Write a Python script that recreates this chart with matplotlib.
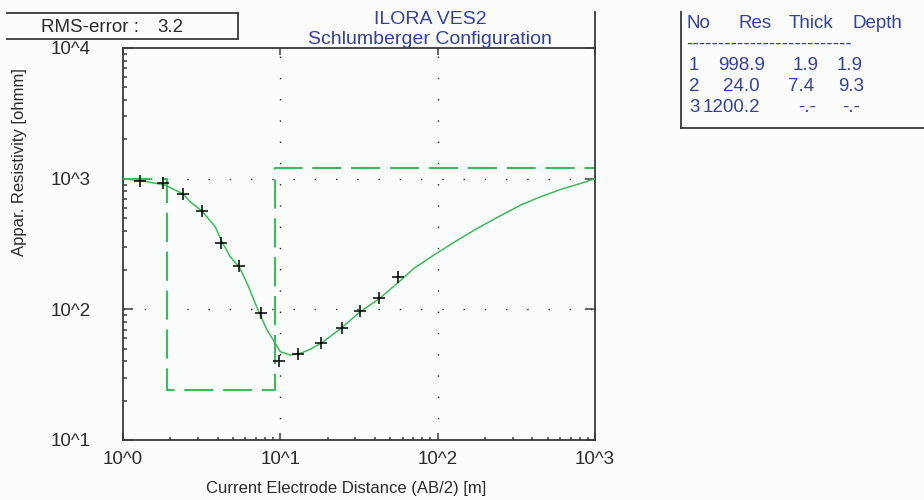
import matplotlib
matplotlib.use("Agg")
import matplotlib.pyplot as plt
from matplotlib.lines import Line2D
from matplotlib.ticker import FixedLocator, NullFormatter, LogLocator

plt.rcParams["font.family"] = ["Liberation Sans", "DejaVu Sans"]
plt.rcParams["lines.scale_dashes"] = False

# ---- sounding data -------------------------------------------------------
# measured apparent resistivity (AB/2 in m, rho_a in ohm-m)
obs_ab2 = [1.28, 1.80, 2.41, 3.17, 4.19, 5.43, 7.54, 9.85, 13.0, 18.2, 24.5, 31.9, 42.1, 55.6]
obs_rho = [960, 927, 763, 566, 324, 216, 93.3, 40.2, 45.5, 55.3, 71.9, 97.0, 122, 177]

# calculated response of the layered model
calc_ab2 = [1.00, 1.283, 1.851, 2.411, 2.672, 3.171, 3.855, 4.254, 4.803, 5.506,
            6.283, 6.932, 7.458, 8.230, 9.294, 10.0, 11.58, 13.41, 15.15, 18.17,
            24.35, 31.86, 42.27, 55.38, 70.63, 99.56, 140.1, 179.0, 240.1, 337.9,
            453.1, 607.4, 814.3, 1000]
calc_rho = [1000, 968, 894, 763, 666, 566, 429, 329, 253, 209,
            149, 111, 90.5, 69.5, 55.0, 47.4, 44.7, 46.1, 48.8, 55.0,
            71.6, 94.9, 120, 158, 206, 271, 350, 417, 506, 629,
            728, 829, 921, 1000]

# layered earth model
layer_no = [1, 2, 3]
layer_res = [998.9, 24.0, 1200.2]
layer_thick = [1.9, 7.4]
layer_depth = [1.9, 9.3]

rms_error = 3.2
title_lines = ["ILORA VES2", "Schlumberger Configuration"]
x_ticks = [1, 10, 100, 1000]
x_tick_labels = ["10^0", "10^1", "10^2", "10^3"]
y_ticks = [10, 100, 1000, 10000]
y_tick_labels = ["10^1", "10^2", "10^3", "10^4"]
x_label = "Current Electrode Distance (AB/2) [m]"
y_label = "Appar. Resistivity [ohmm]"

# ---- styling ---------------------------------------------------------------
W, H = 924, 500
BG = "#fbfdfd"
GREEN = "#3dba5c"
INK = "#2a2a2a"
BLUE = "#34409a"
FRAME = "#3a3a3a"


def fx(px):
    return px / W


def fy(py):
    return 1 - py / H


fig = plt.figure(figsize=(W / 100, H / 100), dpi=100)
fig.patch.set_facecolor(BG)

ax = fig.add_axes([fx(123), fy(440), (595 - 123) / W, (440 - 48) / H])
ax.set_facecolor(BG)
ax.set_xscale("log")
ax.set_yscale("log")
ax.set_xlim(1, 1000)
ax.set_ylim(10, 10000)

for s in ax.spines.values():
    s.set_color(FRAME)
    s.set_linewidth(1.3)

# dotted grid lines at the inner decades
dot = (0, (1.0, 14.3))
for v in y_ticks[1:3]:
    ax.axhline(v, color="#202020", lw=1.0, ls=dot, dash_capstyle="butt", zorder=1)
for v in x_ticks[1:3]:
    ax.axvline(v, color="#202020", lw=1.0, ls=dot, dash_capstyle="butt", zorder=1)

# model (dashed step)
model_x = [1] + layer_depth + [1000]
model_y = layer_res + [layer_res[-1]]
ax.plot(model_x, model_y, drawstyle="steps-post", color=GREEN, lw=1.5,
        dashes=(21, 7), zorder=2)

# calculated curve
ax.plot(calc_ab2, calc_rho, color=GREEN, lw=1.1, zorder=3)

# observations
ax.plot(obs_ab2, obs_rho, ls="none", marker="+", ms=8, mew=1.1, color="k", zorder=4)

# ticks
ax.xaxis.set_major_locator(FixedLocator(x_ticks))
ax.xaxis.set_minor_locator(LogLocator(base=10, subs=range(2, 10)))
ax.xaxis.set_minor_formatter(NullFormatter())
ax.set_xticklabels(x_tick_labels)
ax.yaxis.set_major_locator(FixedLocator(y_ticks))
ax.yaxis.set_minor_locator(LogLocator(base=10, subs=range(2, 10)))
ax.yaxis.set_minor_formatter(NullFormatter())
ax.set_yticklabels(y_tick_labels)

ax.tick_params(axis="x", which="major", direction="in", length=5, width=1.1,
               top=True, bottom=True, color=FRAME, labelsize=13.5,
               labelcolor=INK, pad=8)
ax.tick_params(axis="x", which="minor", direction="in", length=2.5, width=1.1,
               top=False, bottom=True, color=FRAME)
ax.tick_params(axis="y", which="major", direction="in", length=7, width=1.1,
               left=True, right=True, color=FRAME, labelsize=13.5,
               labelcolor=INK, pad=23)
ax.tick_params(axis="y", which="minor", direction="in", length=3, width=1.1,
               left=True, right=False, color=FRAME)

# axis titles
fig.text(fx(346), fy(488), x_label, ha="center", va="center", fontsize=12, color=INK)
fig.text(fx(20), fy(162), y_label, ha="center", va="center", rotation=90,
         fontsize=12, color=INK)

# chart title
fig.text(fx(430), fy(20), title_lines[0], ha="center", va="center", fontsize=14, color=BLUE)
fig.text(fx(430), fy(40), title_lines[1], ha="center", va="center", fontsize=14, color=BLUE)

# right frame line extends above the plot
fig.add_artist(Line2D([fx(595), fx(595)], [fy(12), fy(48)], color=FRAME, lw=1.3))

# RMS error box
for xs, ys in [((7, 238), (13, 13)), ((7, 238), (39, 39)), ((238, 238), (13, 39))]:
    fig.add_artist(Line2D([fx(xs[0]), fx(xs[1])], [fy(ys[0]), fy(ys[1])],
                          color=FRAME, lw=1.3))
fig.text(fx(41), fy(27), "RMS-error :", ha="left", va="center", fontsize=13.5, color=INK)
fig.text(fx(157), fy(27), f"{rms_error:.1f}", ha="left", va="center", fontsize=13.5, color=INK)

# layer table box
fig.add_artist(Line2D([fx(681), fx(681)], [fy(12), fy(128)], color=FRAME, lw=1.3))
fig.add_artist(Line2D([fx(681), fx(924)], [fy(128), fy(128)], color=FRAME, lw=1.3))

tfs = 13.5
fig.text(fx(687), fy(24), "No", ha="left", va="center", fontsize=tfs, color=BLUE)
fig.text(fx(738), fy(24), "Res", ha="left", va="center", fontsize=tfs, color=BLUE)
fig.text(fx(789), fy(24), "Thick", ha="left", va="center", fontsize=tfs, color=BLUE)
fig.text(fx(853), fy(24), "Depth", ha="left", va="center", fontsize=tfs, color=BLUE)
fig.text(fx(686), fy(44), "-" * 26, ha="left", va="center", fontsize=13.5, color=BLUE)

row_y = [66, 87, 108]
res_x = [718, 723, 703]
thick_x = [793, 788, 798]
depth_x = [837, 838, 842]
for i, n in enumerate(layer_no):
    y = fy(row_y[i])
    fig.text(fx(689), y, f"{n}", ha="left", va="center", fontsize=tfs, color=BLUE)
    fig.text(fx(res_x[i]), y, f"{layer_res[i]:.1f}", ha="left", va="center",
             fontsize=tfs, color=BLUE)
    t = f"{layer_thick[i]:.1f}" if i < len(layer_thick) else "-.-"
    d = f"{layer_depth[i]:.1f}" if i < len(layer_depth) else "-.-"
    fig.text(fx(thick_x[i]), y, t, ha="left", va="center", fontsize=tfs, color=BLUE)
    fig.text(fx(depth_x[i]), y, d, ha="left", va="center", fontsize=tfs, color=BLUE)

fig.savefig("out.png", dpi=100, facecolor=BG)
